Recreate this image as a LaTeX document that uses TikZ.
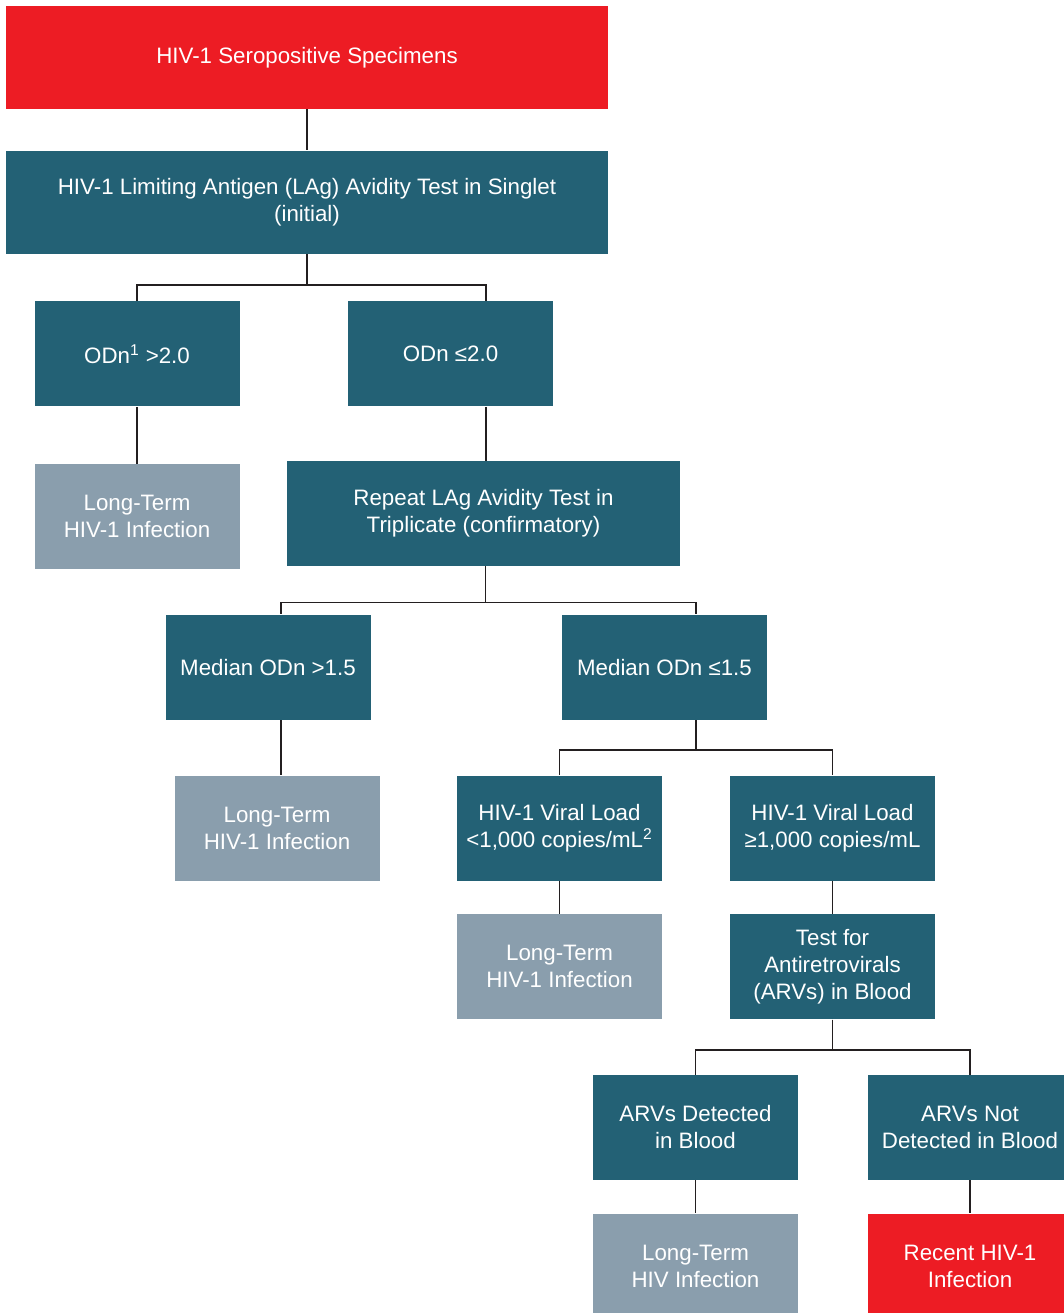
\documentclass[tikz,border=0pt]{standalone}
\usepackage{fontspec}
\setmainfont{Liberation Sans}
\usetikzlibrary{positioning}

\definecolor{hivred}{HTML}{ED1C24}
\definecolor{hivteal}{HTML}{236175}
\definecolor{hivgray}{HTML}{8A9EAD}
\definecolor{hivline}{HTML}{231F20}

\begin{document}
\begin{tikzpicture}[
  box/.style={
    fill=hivteal,
    text=white,
    align=center,
    font=\fontsize{12.7}{15.3}\selectfont,
    minimum width=41mm,
    minimum height=21mm,
    inner xsep=2pt
  },
  wide/.style={box, minimum width=120.4mm, minimum height=20.6mm},
  root/.style={wide, fill=hivred},
  outcome/.style={box, fill=hivgray},
  recent/.style={box, fill=hivred},
  line/.style={draw=hivline, line width=1.1pt}
]
\path[use as bounding box, fill=white] (0,0) rectangle (21.26,-26.26);

\node[root] (specimens) at (6.14,-1.15) {HIV-1 Seropositive Specimens};
\node[wide, below=8.2mm of specimens] (singlet) {HIV-1 Limiting Antigen (LAg) Avidity Test in Singlet\\(initial)};

\node[box, below=9.4mm of singlet, xshift=-34mm] (odnhigh) {ODn\textsuperscript{1} >2.0};
\node[box, below=9.4mm of singlet, xshift=28.7mm] (odnlow) {ODn ≤2.0};
\node[outcome, below=11.4mm of odnhigh] (longterma) {Long-Term\\HIV-1 Infection};
\node[box, below=10.8mm of odnlow, xshift=6.6mm, minimum width=78.6mm] (triplicate) {Repeat LAg Avidity Test in\\Triplicate (confirmatory)};

\node[box, below=9.6mm of triplicate, xshift=-43.1mm] (medhigh) {Median ODn >1.5};
\node[box, below=9.6mm of triplicate, xshift=36.2mm] (medlow) {Median ODn ≤1.5};
\node[outcome, below=11mm of medhigh, xshift=1.8mm] (longtermb) {Long-Term\\HIV-1 Infection};

\node[box, below=11mm of medlow, xshift=-21mm] (vllow) {HIV-1 Viral Load\\<1,000 copies/mL\textsuperscript{2}};
\node[box, below=11mm of medlow, xshift=33.6mm] (vlhigh) {HIV-1 Viral Load\\≥1,000 copies/mL};
\node[outcome, below=6.6mm of vllow] (longtermc) {Long-Term\\HIV-1 Infection};
\node[box, below=6.6mm of vlhigh] (arvtest) {Test for\\Antiretrovirals\\(ARVs) in Blood};

\node[box, below=11mm of arvtest, xshift=-27.4mm] (arvyes) {ARVs Detected\\in Blood};
\node[box, below=11mm of arvtest, xshift=27.5mm] (arvno) {ARVs Not\\Detected in Blood};
\node[outcome, below=6.6mm of arvyes] (longtermd) {Long-Term\\HIV Infection};
\node[recent, below=6.6mm of arvno] (recentinf) {Recent HIV-1\\Infection};

\draw[line] (specimens) -- (singlet);
\draw[line] (singlet.south) -- ++(0,-6.2mm) -| (odnhigh.north);
\draw[line] (singlet.south) -- ++(0,-6.2mm) -| ([xshift=7.1mm]odnlow.north);
\draw[line] (odnhigh) -- (longterma);
\draw[line] ([xshift=7.1mm]odnlow.south) -- ([xshift=7.1mm]odnlow.south |- triplicate.north);
\draw[line] ([xshift=0.4mm]triplicate.south) -- ++(0,-7.2mm) -| ([xshift=2.6mm]medhigh.north);
\draw[line] ([xshift=0.4mm]triplicate.south) -- ++(0,-7.2mm) -| ([xshift=6.3mm]medlow.north);
\draw[line] ([xshift=2.6mm]medhigh.south) -- ([xshift=2.6mm]medhigh.south |- longtermb.north);
\draw[line] ([xshift=6.3mm]medlow.south) -- ++(0,-6mm) -| (vllow.north);
\draw[line] ([xshift=6.3mm]medlow.south) -- ++(0,-6mm) -| (vlhigh.north);
\draw[line] (vllow) -- (longtermc);
\draw[line] (vlhigh) -- (arvtest);
\draw[line] (arvtest.south) -- ++(0,-6mm) -| (arvyes.north);
\draw[line] (arvtest.south) -- ++(0,-6mm) -| (arvno.north);
\draw[line] (arvyes) -- (longtermd);
\draw[line] (arvno) -- (recentinf);
\end{tikzpicture}
\end{document}
